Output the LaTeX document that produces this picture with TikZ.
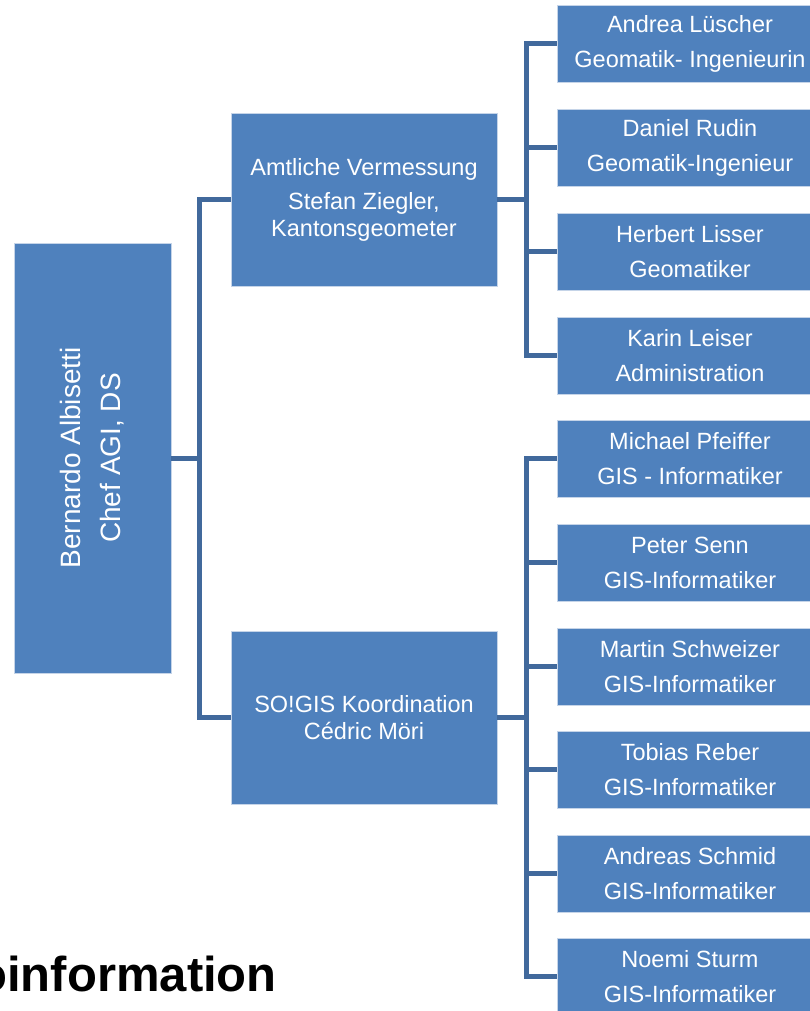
\documentclass[tikz,border=0pt]{standalone}
\usepackage{fontspec}
\setmainfont{Liberation Sans}
\usetikzlibrary{positioning,calc}
\definecolor{BoxBlue}{HTML}{4F81BD}
\definecolor{BoxEdge}{HTML}{C5D4E8}
\definecolor{LinkBlue}{HTML}{41699C}
\newcommand{\StaffBox}[4]{%
  \node[staff] (#1) at (690,#2) {#3\\#4};%
}

\begin{document}
\begin{tikzpicture}[x=1pt,y=-1pt,
  box/.style={fill=BoxBlue,draw=BoxEdge,line width=0.8pt,text=white,align=center,inner sep=0pt},
  staff/.style={box,minimum width=266pt,minimum height=77pt,font=\fontsize{23.5}{35}\selectfont},
  unit/.style={box,minimum width=266pt,minimum height=173pt,font=\fontsize{23.5}{27}\selectfont},
  link/.style={LinkBlue,line width=5pt,line join=miter}]
\useasboundingbox (0,0) rectangle (809,1011);
% head of office
\node[box,rotate=90,minimum width=430pt,minimum height=157pt,font=\fontsize{28}{40}\selectfont] (chef) at (92.5,458) {Bernardo Albisetti\\Chef AGI, DS};
% units
\node[unit] (av) at (364,199.5) {Amtliche Vermessung\\[7pt]Stefan Ziegler,\\Kantonsgeometer};
\node[unit] (sog) at (364,717.5) {SO!GIS Koordination\\Cédric Möri};
% staff
\StaffBox{p1}{43.5}{Andrea Lüscher}{Geomatik- Ingenieurin}
\StaffBox{p2}{147.5}{Daniel Rudin}{Geomatik-Ingenieur}
\StaffBox{p3}{251.5}{Herbert Lisser}{Geomatiker}
\StaffBox{p4}{355.5}{Karin Leiser}{Administration}
\StaffBox{p5}{458.5}{Michael Pfeiffer}{GIS - Informatiker}
\StaffBox{p6}{562.5}{Peter Senn}{GIS-Informatiker}
\StaffBox{p7}{666.5}{Martin Schweizer}{GIS-Informatiker}
\StaffBox{p8}{769.5}{Tobias Reber}{GIS-Informatiker}
\StaffBox{p9}{873.5}{Andreas Schmid}{GIS-Informatiker}
\StaffBox{p10}{976.5}{Noemi Sturm}{GIS-Informatiker}
% forks
\coordinate (forkA) at ($(av.west)+(-31,0)$);
\coordinate (forkB) at ($(p1.west)+(-30,0)$);
\coordinate (forkC) at ($(p5.west)+(-30,0)$);
\draw[link] (chef.south) -- (chef.south -| forkA);
\draw[link] (av.west) -- (forkA) -- (forkA |- sog.west) -- (sog.west);
\draw[link] (av.east) -- (av.east -| forkB);
\draw[link] (p1.west) -- (forkB) -- (forkB |- p4.west) -- (p4.west);
\foreach \k in {2,3} \draw[link] (p\k.west) -- (p\k.west -| forkB);
\draw[link] (sog.east) -- (sog.east -| forkC);
\draw[link] (p5.west) -- (forkC) -- (forkC |- p10.west) -- (p10.west);
\foreach \k in {6,...,9} \draw[link] (p\k.west) -- (p\k.west -| forkC);
% title
\node[anchor=base east,inner sep=0pt,font=\bfseries\fontsize{49}{49}\selectfont] (title) at (277,991) {oinformation};
\end{tikzpicture}
\end{document}
